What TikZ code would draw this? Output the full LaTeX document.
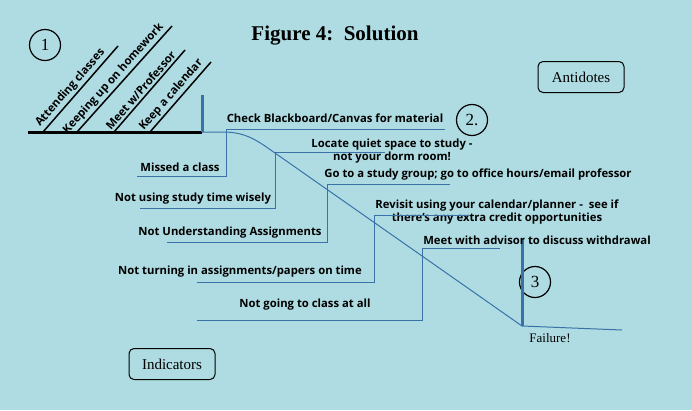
\documentclass[tikz,border=0pt]{standalone}
\usepackage{fontspec}
\setmainfont{Liberation Serif}
\setsansfont{Open Sans}
\definecolor{bgcyan}{HTML}{AEDCE2}
\definecolor{lineblue}{HTML}{3A72A8}
\tikzset{
    lbl/.style={font=\sffamily\bfseries\fontsize{11.3}{12.5}\selectfont, inner sep=1pt},
    rung/.style={lineblue, line width=1pt},
    bar/.style={lineblue, line width=3pt},
    num/.style={circle, draw, line width=1.2pt, minimum size=31pt, font=\fontsize{17}{17}\selectfont},
    tag/.style={rounded corners=5pt, draw, line width=1pt, minimum width=86pt, minimum height=31pt, font=\fontsize{15}{15}\selectfont}
}
\begin{document}
\begin{tikzpicture}[x=1pt,y=-1pt]
    \fill[bgcyan] (0,0) rectangle (692,410);
    \useasboundingbox (0,0) rectangle (692,410);

    \node[font=\bfseries\fontsize{21}{23}\selectfont] (title) at (335,36) {Figure 4:\ \ Solution};
    \node[num] (one) at (45,45) {1};
    \node[num] (two) at (472,120) {2.};
    \node[num] (three) at (535,282) {3};
    \node[tag] (antidotes) at (581,77) {Antidotes};
    \node[tag] (indicators) at (172,364) {Indicators};

    % starting platform
    \coordinate (base0) at (28,132);
    \coordinate (base1) at (202,132);
    \draw[line width=3pt] (base0) -- (base1);
    \coordinate (bar0) at (202,95);
    \draw[bar] (bar0) -- (base1);
    \foreach \x/\tx/\ty/\txt in {43/118/46/{Attending classes}, 77/172/26/{Keeping up on homework},
        114/185/50/{Meet w/Professor}, 150/211/62/{Keep a calendar}}
        \draw[line width=1.5pt] (\x,132) -- (\tx,\ty) node[lbl, pos=0.45, sloped, above=1pt] {\txt};

    % the slope
    \coordinate (bend) at (265,146);
    \coordinate (bottom) at (522,326);
    \coordinate (floor) at (622,330);
    \coordinate (bar1) at (522,238);
    \draw[rung] (base1) -- (222,132) .. controls (240,132) and (250,136) .. (bend) -- (bottom) -- (floor);
    \draw[bar] (bar1) -- (bottom);
    \node[font=\fontsize{13}{13}\selectfont] (failure) at (550,338) {Failure!};

    % antidotes
    \node[lbl] (check) at (335,118) {Check Blackboard/Canvas for material};
    \node[lbl, align=center] (locate) at (392,151) {Locate quiet space to study -\\not your dorm room!};
    \node[lbl] (group) at (478,175) {Go to a study group; go to office hours/email professor};
    \node[lbl, align=center] (revisit) at (497,212) {Revisit using your calendar/planner -\ \ see if\\there's any extra credit opportunities};
    \node[lbl] (advisor) at (537,240) {Meet with advisor to discuss withdrawal};
    \draw[rung] (226,129) -- (445,129);
    \draw[rung] (275,152) -- (385,152);
    \draw[rung] (327,184) -- (450,184);
    \draw[rung] (374,215) -- (470,215);
    \draw[rung] (422,248) -- (500,248);

    % indicators
    \node[lbl] (missed) at (180,167) {Missed a class};
    \node[lbl] (wisely) at (193,199) {Not using study time wisely};
    \node[lbl] (understand) at (230,233) {Not Understanding Assignments};
    \node[lbl] (turning) at (240,272) {Not turning in assignments/papers on time};
    \node[lbl] (going) at (305,305) {Not going to class at all};
    \draw[rung] (226,129) -- (226,176) -- (137,176);
    \draw[rung] (275,152) -- (275,208) -- (140,208);
    \draw[rung] (327,184) -- (327,242) -- (167,242);
    \draw[rung] (374,215) -- (374,282) -- (197,282);
    \draw[rung] (422,248) -- (422,320) -- (197,320);
\end{tikzpicture}
\end{document}
